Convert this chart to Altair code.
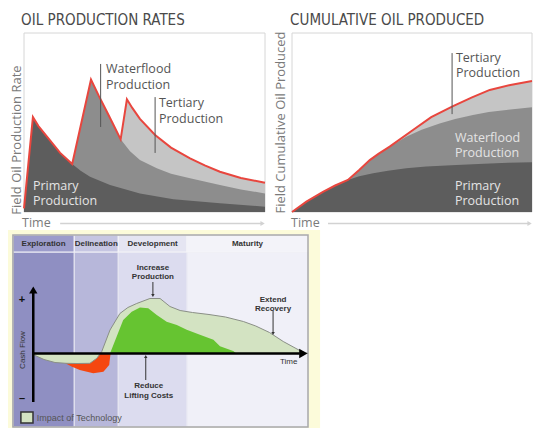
import altair as alt
import pandas as pd

# ---------------- Panel A: OIL PRODUCTION RATES ----------------
rate_total_t = [0, 3.7, 6, 10.8, 15, 20, 27.8, 31, 34.4, 37, 40.1, 42.7, 45, 48.1, 54.4, 61, 68.9, 75, 81.3, 90, 100]
rate_total_r = [2, 53, 48, 40, 33, 26.8, 74, 65, 56, 49, 40.6, 63, 58, 52, 43, 36, 30, 26, 22.5, 19, 16.4]
rate_water_t = [20, 27.8, 31, 34.4, 37, 40.1, 44, 48.1, 55.1, 61, 68.9, 81.3, 90, 100]
rate_water_r = [26.8, 74, 65, 56, 49, 40.6, 34, 29, 24.4, 21.3, 18.8, 15.1, 12.6, 10.4]
rate_primary_t = [0, 3.7, 6, 10.8, 15, 20, 23.5, 27.4, 35.7, 48.1, 62, 81.3, 100]
rate_primary_r = [2, 53, 48, 40, 33, 26.8, 23, 19.7, 15.1, 10.4, 7.1, 4.9, 3]

# ---------------- Panel B: CUMULATIVE OIL PRODUCED ----------------
cum_total_t = [0, 6, 12.9, 18, 23.3, 28, 32.4, 36, 40.7, 50.4, 58, 67.1, 75, 82.4, 91, 100]
cum_total_r = [0, 5.8, 11.3, 14.8, 17.9, 23.5, 29, 32.5, 36.5, 45.8, 53, 59.2, 64, 68.2, 71, 73.2]
cum_water_t = [23.3, 28, 32.4, 36, 40.7, 47.6, 54, 61.5, 68, 75.4, 82, 89.3, 100]
cum_water_r = [17.9, 23.5, 29, 32.5, 36.5, 42, 46, 49.5, 52, 54.2, 55.8, 57, 58.5]
cum_primary_t = [0, 6, 12.9, 18, 23.3, 28, 33.8, 40, 47.6, 56, 68.5, 80, 90, 100]
cum_primary_r = [0, 5.8, 11.3, 14.8, 17.9, 20, 21.6, 23, 24.4, 25.4, 26.3, 27, 27.5, 27.8]

# ---------------- Panel C: cash flow over field life ----------------
phase_names = ["Exploration", "Delineation", "Development", "Maturity"]
phase_start = [-7.3, 15, 31, 56]
phase_end = [15, 31, 56, 100]
phase_body = ["#8f8fc2", "#b7b7da", "#dcdcef", "#f0f0f8"]
phase_head = ["#9c9ccb", "#c6c6e2", "#e5e5f2", "#f3f3f9"]

tech_t = [0, 4, 8, 12, 16, 20.7, 23.2, 25, 28, 31.6, 34.5, 37.7, 42.5, 46.2, 49.8, 53.5, 58, 64, 70, 76.5, 81, 86, 91, 97, 100]
tech_cf = [-1, -6, -9, -9.8, -10, -9.8, -4.8, 2, 23.5, 40, 46, 50, 55, 55, 47, 43, 41, 39, 36.5, 32, 27.5, 21, 12, 3, 0]
base_pos_t = [28, 30.4, 32.8, 35.9, 38.9, 41.9, 45, 48.6, 52.3, 55.9, 60.7, 65.6, 68, 72.8, 74]
base_pos_cf = [0, 16.8, 33.5, 41.8, 46, 45.2, 38.5, 31.8, 28.5, 23.8, 18.8, 13.8, 7.2, 2.5, 0]
base_neg_t = [11.6, 14, 17, 21.9, 25.6, 27.7, 28.2]
base_neg_cf = [-9.6, -13, -16.5, -19.8, -18.2, -11.5, 0]

TITLE_FONT = "DejaVu Sans Condensed, DejaVu Sans, sans-serif"
LABEL_FONT = "Open Sans"
C_FONT = "Liberation Sans"


def df(**cols):
    return pd.DataFrame(cols)


def xe(sc, f="t"):
    return alt.X(f"{f}:Q", scale=sc, axis=None)


def ye(sc, f="v"):
    return alt.Y(f"{f}:Q", scale=sc, axis=None)


def text_layer(data, sx, sy, **mk):
    return alt.Chart(data).mark_text(**mk).encode(
        x=xe(sx), y=ye(sy), text="label:N")


def top_panel(sx, sy, total, water, primary, title, ylab, ylab_v, labels_dark, labels_light):
    box = alt.Chart(df(t=[0], t2=[100], v=[0], v2=[100])).mark_rect(
        fillOpacity=0, stroke="#d6d6d6", strokeWidth=1).encode(
        x=xe(sx), x2="t2:Q", y=ye(sy), y2="v2:Q")
    a_tot = alt.Chart(df(t=total[0], v=total[1])).mark_area(color="#c5c5c5").encode(x=xe(sx), y=ye(sy))
    a_wat = alt.Chart(df(t=water[0], v=water[1])).mark_area(color="#8d8d8d").encode(x=xe(sx), y=ye(sy))
    a_pri = alt.Chart(df(t=primary[0], v=primary[1])).mark_area(color="#5d5d5d").encode(x=xe(sx), y=ye(sy))
    red = alt.Chart(df(t=total[0], v=total[1])).mark_line(color="#e8463e", strokeWidth=2).encode(x=xe(sx), y=ye(sy))
    layers = [box, a_tot, a_wat, a_pri, red]
    # leader lines
    for (lt, lv1, lv2) in labels_dark[1]:
        layers.append(alt.Chart(df(t=[lt], v=[lv1], v2=[lv2])).mark_rule(color="#555555", strokeWidth=1).encode(
            x=xe(sx), y=ye(sy), y2="v2:Q"))
    layers.append(text_layer(labels_dark[0], sx, sy, align="left", baseline="top", lineBreak="\n",
                             lineHeight=15.5, font=LABEL_FONT, fontSize=12.5, color="#555555"))
    layers.append(text_layer(labels_light, sx, sy, align="left", baseline="top", lineBreak="\n",
                             lineHeight=15.5, font=LABEL_FONT, fontSize=12.5, color="#e4e4e4"))
    layers.append(text_layer(df(t=[title[1]], v=[111.2], label=[title[0]]), sx, sy, align="left",
                             baseline="top", font=TITLE_FONT, fontSize=15, color="#4a4a4a"))
    layers.append(text_layer(df(t=[ylab_v[0]], v=[ylab_v[1]], label=[ylab]), sx, sy, align="center",
                             baseline="middle", angle=270, font=LABEL_FONT, fontSize=13, color="#7a7a7a"))
    layers.append(text_layer(df(t=[title[1] + 0.4], v=[-5.9], label=["Time"]), sx, sy, align="left",
                             baseline="middle", font=LABEL_FONT, fontSize=12.5, color="#7a7a7a"))
    layers.append(alt.Chart(df(t=[15], t2=[99], v=[-6.4])).mark_rule(color="#d2d2d2", strokeWidth=1.5).encode(
        x=xe(sx), x2="t2:Q", y=ye(sy)))
    layers.append(alt.Chart(df(t=[99], v=[-6.4])).mark_point(shape="triangle-right", filled=True, size=25,
                                                              color="#d2d2d2", opacity=1).encode(x=xe(sx), y=ye(sy)))
    return alt.layer(*layers)


xa = alt.Scale(domain=[0, 100], range=[16, 257])
ya = alt.Scale(domain=[0, 100], range=[204, 25])
xb = alt.Scale(domain=[0, 100], range=[284, 524])
yb = alt.Scale(domain=[0, 100], range=[204, 25])
xc = alt.Scale(domain=[0, 100], range=[25, 300])
yc = alt.Scale(domain=[-50, 70], range=[395.5, 275.5])

panel_a = top_panel(
    xa, ya, (rate_total_t, rate_total_r), (rate_water_t, rate_water_r), (rate_primary_t, rate_primary_r),
    ("OIL PRODUCTION RATES", -1.2), "Field Oil Production Rate", (-2.9, 40.2),
    (df(t=[34, 56], v=[83.2, 64.2], label=["Waterflood\nProduction", "Tertiary\nProduction"]),
     [(31.8, 82.7, 47.5), (54.4, 64.2, 33)]),
    df(t=[3.7], v=[17.9], label=["Primary\nProduction"]))

panel_b = top_panel(
    xb, yb, (cum_total_t, cum_total_r), (cum_water_t, cum_water_r), (cum_primary_t, cum_primary_r),
    ("CUMULATIVE OIL PRODUCED", -0.8), "Field Cumulative Oil Produced", (-4.6, 50),
    (df(t=[68.3], v=[89.4], label=["Tertiary\nProduction"]), [(66.7, 88.8, 54.7)]),
    df(t=[67.9, 67.9], v=[44.7, 17.9], label=["Waterflood\nProduction", "Primary\nProduction"]))

# ---- panel C ----
phases = df(name=phase_names, t=phase_start, t2=phase_end, body=phase_body, head=phase_head)
c_layers = []
c_layers.append(alt.Chart(df(t=[-9.1], t2=[104.4], v=[123.5], v2=[-78.5])).mark_rect(color="#fcfbda").encode(
    x=xe(xc), x2="t2:Q", y=ye(yc), y2="v2:Q"))
c_layers.append(alt.Chart(phases).transform_calculate(v="-73.5", v2="101.5").mark_rect(
    stroke="#e8e8f2", strokeWidth=1).encode(
    x=xe(xc), x2="t2:Q", y=ye(yc), y2="v2:Q", fill=alt.Fill("body:N", scale=None)))
c_layers.append(alt.Chart(phases).transform_calculate(v="101.5", v2="118.5").mark_rect(
    stroke="#f4f4f8", strokeWidth=1).encode(
    x=xe(xc), x2="t2:Q", y=ye(yc), y2="v2:Q", fill=alt.Fill("head:N", scale=None)))
c_layers.append(alt.Chart(phases).transform_calculate(t="(datum.t + datum.t2) / 2", v="110").mark_text(
    font=C_FONT, fontWeight="bold", fontSize=8, color="#333333").encode(x=xe(xc), y=ye(yc), text="name:N"))
c_layers.append(alt.Chart(df(t=[-7.3], t2=[100], v=[-73.5], v2=[118.5])).mark_rect(
    fillOpacity=0, stroke="#a9a9a9", strokeWidth=1.5).encode(x=xe(xc), x2="t2:Q", y=ye(yc), y2="v2:Q"))
# areas
c_layers.append(alt.Chart(df(t=base_neg_t, v=base_neg_cf)).mark_area(color="#f5470f").encode(x=xe(xc), y=ye(yc)))
c_layers.append(alt.Chart(df(t=tech_t, v=tech_cf)).mark_area(color="#d3e3c2").encode(x=xe(xc), y=ye(yc)))
c_layers.append(alt.Chart(df(t=base_pos_t, v=base_pos_cf)).mark_area(color="#66c431").encode(x=xe(xc), y=ye(yc)))
c_layers.append(alt.Chart(df(t=tech_t, v=tech_cf)).mark_line(color="#8a8f86", strokeWidth=1).encode(x=xe(xc), y=ye(yc)))
# axes
c_layers.append(alt.Chart(df(t=[0.1], v=[-48.5], v2=[62])).mark_rule(color="black", strokeWidth=2.5).encode(
    x=xe(xc), y=ye(yc), y2="v2:Q"))
c_layers.append(alt.Chart(df(t=[0.1], v=[63.5])).mark_point(shape="triangle-up", filled=True, size=70,
                                                            color="black", opacity=1).encode(x=xe(xc), y=ye(yc)))
c_layers.append(alt.Chart(df(t=[0], t2=[97], v=[0])).mark_rule(color="black", strokeWidth=2.5).encode(
    x=xe(xc), x2="t2:Q", y=ye(yc)))
c_layers.append(alt.Chart(df(t=[98.3], v=[0])).mark_point(shape="triangle-right", filled=True, size=90,
                                                          color="black", opacity=1).encode(x=xe(xc), y=ye(yc)))
# annotation arrows
c_layers.append(alt.Chart(df(t=[43.6, 87.3, 41.0], v=[71.5, 42.5, -26.5], v2=[59, 21, -4])).mark_rule(
    color="#333333", strokeWidth=1).encode(x=xe(xc), y=ye(yc), y2="v2:Q"))
c_layers.append(alt.Chart(df(t=[43.6, 87.3], v=[58, 20])).mark_point(shape="triangle-down", filled=True, size=12,
                                                                     color="#333333", opacity=1).encode(x=xe(xc), y=ye(yc)))
c_layers.append(alt.Chart(df(t=[41.0], v=[-3])).mark_point(shape="triangle-up", filled=True, size=12,
                                                           color="#333333", opacity=1).encode(x=xe(xc), y=ye(yc)))
c_layers.append(text_layer(df(t=[43.6, 87.3, 42.1], v=[90, 58, -28.5],
                              label=["Increase\nProduction", "Extend\nRecovery", "Reduce\nLifting Costs"]),
                           xc, yc, align="center", baseline="top", lineBreak="\n", lineHeight=9.5,
                           font=C_FONT, fontWeight="bold", fontSize=8, color="#333333"))
c_layers.append(text_layer(df(t=[89.8], v=[-8.5], label=["Time"]), xc, yc, align="left", baseline="middle",
                           font=C_FONT, fontSize=8, color="#333333"))
c_layers.append(text_layer(df(t=[-3.6], v=[3.5], label=["Cash Flow"]), xc, yc, align="center",
                           baseline="middle", angle=270, font=C_FONT, fontSize=8, color="#333333"))
c_layers.append(text_layer(df(t=[-4, -4], v=[53.5, -45], label=["+", "\u2013"]), xc, yc, align="center",
                           baseline="middle", font=C_FONT, fontWeight="bold", fontSize=11, color="#111111"))
# legend
c_layers.append(alt.Chart(df(t=[-4.4], t2=[0], v=[-58.5], v2=[-69.5])).mark_rect(
    color="#d3e3c2", stroke="#333333", strokeWidth=1.5).encode(x=xe(xc), x2="t2:Q", y=ye(yc), y2="v2:Q"))
c_layers.append(text_layer(df(t=[1.4], v=[-64.5], label=["Impact of Technology"]), xc, yc, align="left",
                           baseline="middle", font=C_FONT, fontSize=9, color="#555555"))
panel_c = alt.layer(*c_layers)

chart = alt.layer(panel_a, panel_b, panel_c).resolve_scale(x="independent", y="independent").properties(
    width=530, height=420, autosize=alt.AutoSizeParams(type="none"), padding=0,
    background="white").configure_view(stroke=None)

chart.save("out.html", embed_options={"renderer": "svg", "actions": False})
